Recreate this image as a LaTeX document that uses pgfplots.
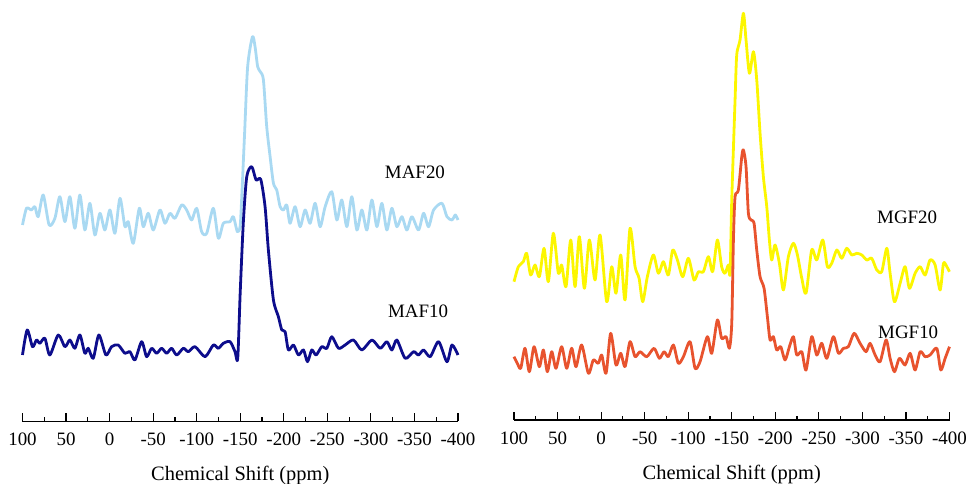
\documentclass[border=0pt]{standalone}
\usepackage{fontspec}
\setmainfont{Liberation Serif}
\usepackage{pgfplots}
\pgfplotsset{compat=1.18}

\definecolor{mafA}{HTML}{A9D9F2}
\definecolor{mafB}{HTML}{0D0D8C}
\definecolor{mgfA}{HTML}{FCF600}
\definecolor{mgfB}{HTML}{E8532E}

\tikzset{samplelabel/.style={font=\fontsize{19}{21}\selectfont}}

\pgfplotsset{
  nmr/.style={
    scale only axis,
    width=435.5bp,
    x dir=reverse,
    xmin=-400, xmax=100,
    ymin=0,
    axis x line*=bottom,
    axis y line=none,
    xtick={100,50,0,-50,-100,-150,-200,-250,-300,-350,-400},
    xticklabels={100,50,0,-50,-100,-150,-200,-250,-300,-350,-400},
    minor x tick num=1,
    tick align=inside,
    major tick length=8bp,
    minor tick length=4bp,
    every tick/.style={black, line width=1.2bp},
    axis line style={black, line width=1.3bp, -},
    tick label style={font=\fontsize{19}{21}\selectfont},
    xticklabel style={anchor=base, yshift=-24.5bp},
    xlabel={Chemical Shift (ppm)},
    xlabel style={font=\fontsize{20.5}{22}\selectfont, at={(axis description cs:0.5,0)}, anchor=base, yshift=-59.5bp},
    clip=false,
    every axis plot/.append style={smooth, tension=0.45, line width=2.8bp, line join=round},
  },
}

\begin{document}
\begin{tikzpicture}[x=1bp,y=1bp]
\useasboundingbox (0,0) rectangle (967,484);

% left panel: MAF samples
\begin{axis}[nmr, at={(22.5bp,62.5bp)}, anchor=south west, height=421.5bp, ymax=421.5]
\addplot[mafA] coordinates {
(100,196.5) (95.4,213.2) (89.7,211.5) (85.8,214.8) (82.0,204.8) (76.2,226.5) (69.4,196.5) (62.8,203.2) (57.1,224.8) (51.3,199.8) (45.6,224.8) (39.9,193.2) (34.1,226.5) (28.4,191.5) (22.6,218.2) (16.9,186.5) (11.1,208.2) (5.4,191.5) (-0.4,211.5) (-6.1,188.2) (-11.9,223.2) (-17.6,194.8) (-21.4,199.8) (-27.2,178.2) (-34.1,213.2) (-38.7,194.8) (-44.4,208.2) (-50.2,191.5) (-57.8,211.5) (-63.6,198.2) (-69.3,208.2) (-75.1,203.2) (-82.7,216.5) (-88.5,211.5) (-94.2,201.5) (-100.0,213.2) (-105.7,189.8) (-111.5,188.2) (-119.1,213.2) (-124.9,183.2) (-130.6,198.2) (-138.3,199.8) (-142.1,204.8) (-146.7,189.8) (-149.8,194.8) (-151.5,220) (-155,288.2) (-158.5,354.8) (-164.0,384.8) (-167,374.8) (-170,354.8) (-173,349.8) (-176.6,341.5) (-180.4,294.8) (-184.3,264.8) (-188.1,238.2) (-191.9,231.5) (-195.8,214.8) (-199.6,211.5) (-203.4,216.5) (-207.2,198.2) (-213.0,214.8) (-218.7,194.8) (-224.5,211.5) (-230.2,198.2) (-236.0,218.2) (-241.7,194.8) (-247.5,214.8) (-255.1,229.8) (-260.9,201.5) (-266.6,221.5) (-272.4,194.8) (-278.1,224.8) (-283.9,191.5) (-289.6,211.5) (-295.4,191.5) (-301.1,221.5) (-306.9,194.8) (-312.6,218.2) (-318.3,191.5) (-324.1,213.2) (-329.8,194.8) (-335.6,204.8) (-341.3,191.5) (-347.1,204.8) (-354.7,191.5) (-360.5,208.2) (-366.2,194.8) (-372.0,211.5) (-381.6,218.2) (-387.3,204.8) (-393.1,201.5) (-396.9,206.5) (-400,201.5)
};
\addplot[mafB] coordinates {
(100,66.5) (94.6,91.5) (88.5,74.8) (83.9,81.5) (80.1,78.2) (74.3,83.2) (68.6,66.5) (59.0,86.5) (51.3,74.8) (45.6,81.5) (39.9,73.2) (34.1,86.5) (28.4,68.2) (24.5,73.2) (18.8,63.2) (12.3,86.5) (4.2,66.5) (-2.3,74.8) (-9.9,76.5) (-17.6,68.2) (-23.4,69.8) (-29.1,61.5) (-36.8,79.8) (-42.5,64.8) (-48.3,73.2) (-54.0,68.2) (-59.8,73.2) (-65.5,68.2) (-71.2,73.2) (-77.0,66.5) (-84.7,73.2) (-90.4,69.8) (-98.1,74.8) (-109.6,64.8) (-119.1,76.5) (-124.9,73.2) (-130.6,78.2) (-138.3,79.8) (-144.0,69.8) (-147.1,63.2) (-150,130) (-153.6,200) (-157.5,245) (-163.2,254.8) (-168.2,241.5) (-173.5,242.2) (-178.5,214.8) (-182.3,171.5) (-188.1,121.5) (-193.8,104.8) (-197.7,91.5) (-201.5,89.8) (-205.3,71.5) (-211.1,76.5) (-216.8,66.5) (-222.6,71.5) (-227.2,59.8) (-232.1,71.5) (-237.1,66.5) (-243.6,74.8) (-249.4,73.2) (-255.1,84.8) (-262.8,73.2) (-270.4,76.5) (-280.0,81.5) (-289.6,71.5) (-301.1,81.5) (-310.7,73.2) (-318.3,79.8) (-324.1,71.5) (-329.8,81.5) (-339.4,63.2) (-349.0,69.8) (-354.7,66.5) (-360.5,71.5) (-368.1,64.8) (-377.7,79.8) (-387.3,59.8) (-393.1,76.5) (-400,66.5)
};
\node[samplelabel] at (axis cs:-350.6,249.5) {MAF20};
\node[samplelabel] at (axis cs:-354.1,110.5) {MAF10};
\end{axis}

% right panel: MGF samples
\begin{axis}[nmr, at={(514bp,64bp)}, anchor=south west, height=420bp, ymax=420]
\addplot[mgfA] coordinates {
(100,138.3) (95.0,153.3) (89.3,158.3) (85.5,166.7) (80.9,145.0) (75.9,155.0) (70.9,143.3) (65.5,171.7) (60.6,138.3) (54.8,186.7) (49.1,146.7) (45.3,155.0) (40.3,133.3) (34.9,180.0) (29.9,133.3) (25.0,183.3) (19.2,131.7) (13.5,180.0) (7.0,140.0) (1.2,185.0) (-6.4,118.3) (-12.2,153.3) (-17.1,126.7) (-22.5,165.0) (-27.5,120.0) (-33.2,191.7) (-39.0,153.3) (-43.6,141.7) (-47.8,118.3) (-53.1,143.3) (-60.0,165.0) (-65.8,146.7) (-71.5,158.3) (-77.2,145.0) (-82.2,170.0) (-87.6,160.0) (-93.7,143.3) (-100.2,161.7) (-106.7,140.0) (-111.7,148.3) (-117.4,148.3) (-123.2,163.3) (-128.1,148.3) (-133.5,180.0) (-138.4,153.3) (-142.2,146.7) (-146.1,155.0) (-148.1,146.7) (-150.0,220) (-153.8,320) (-155.7,365) (-159.5,380) (-163.4,406.7) (-166.4,380) (-170.3,346.7) (-174.9,368.3) (-178.7,340) (-182.5,286.7) (-186.3,243.3) (-190.2,213.3) (-193.2,180) (-195.9,160) (-199.7,175) (-204.7,156.7) (-209.3,130) (-215.0,163.3) (-220.8,176.7) (-225.4,165) (-230.4,141.7) (-235.3,126.7) (-241.8,170) (-247.6,160) (-254.5,180) (-259.8,153.3) (-264.8,156.7) (-270.6,170) (-276.3,161.7) (-282.0,171.7) (-287.8,165) (-293.5,166.7) (-299.3,165) (-305.0,160) (-310.7,161.7) (-316.5,150) (-322.2,148.3) (-328.0,171.7) (-331.8,146.7) (-336.8,118.3) (-343.3,136.7) (-349.0,153.3) (-354.0,131.7) (-360.5,146.7) (-366.3,153.3) (-372.0,145) (-377.7,160) (-383.5,155) (-389.2,130) (-393.1,156.7) (-396.9,153.3) (-400,148.3)
};
\addplot[mgfB] coordinates {
(100,63.3) (96.2,56.7) (92.3,51.7) (87.4,71.7) (82.4,48.3) (77.0,73.3) (70.9,53.3) (66.3,70) (61.7,48.3) (56.7,68.3) (51.8,51.7) (45.3,73.3) (39.5,51.7) (33.8,71.7) (28.8,53.3) (22.3,75) (14.6,46.7) (8.9,60) (3.2,56.7) (-0.7,65) (-5.7,46.7) (-11.0,86.7) (-17.1,55) (-22.5,66.7) (-27.5,53.3) (-33.2,78.3) (-39.0,63.3) (-44.7,68.3) (-52.4,63.3) (-60.8,71.7) (-66.9,61.7) (-72.3,68.3) (-77.2,63.3) (-83.0,75) (-88.7,56.7) (-94.5,63.3) (-102.1,78.3) (-107.9,51.7) (-113.6,58.3) (-122.0,83.3) (-127.0,66.7) (-133.5,100) (-138.4,81.7) (-143.5,83.3) (-147.3,71.7) (-150.0,96.7) (-151.9,180) (-153.8,223.3) (-157.6,230) (-161.5,263.3) (-163.4,270) (-166.4,253.3) (-169.1,206.7) (-172.2,200) (-175.6,196.7) (-178.7,170) (-182.5,143.3) (-187.1,131.7) (-190.9,103.3) (-194.0,80) (-197.8,83.3) (-201.6,70) (-206.2,73.3) (-211.2,60) (-216.2,73.3) (-220.8,83.3) (-224.6,65) (-230.4,68.3) (-235.3,50) (-241.8,83.3) (-247.6,65) (-253.3,76.7) (-259.1,61.7) (-266.7,83.3) (-272.5,66.7) (-278.2,71.7) (-283.9,73.3) (-290.5,86.7) (-297.3,76.7) (-304.2,68.3) (-308.8,76.7) (-314.6,65) (-320.3,58.3) (-327.2,80) (-331.8,61.7) (-336.8,48.3) (-342.5,61.7) (-349.0,55) (-354.8,66.7) (-360.5,50) (-366.3,68.3) (-372.0,63.3) (-377.7,65) (-385.4,71.7) (-390.0,50) (-395.0,61.7) (-400,73.3)
};
\node[samplelabel] at (axis cs:-351.4,203) {MGF20};
\node[samplelabel] at (axis cs:-352.6,88) {MGF10};
\end{axis}
\end{tikzpicture}
\end{document}
